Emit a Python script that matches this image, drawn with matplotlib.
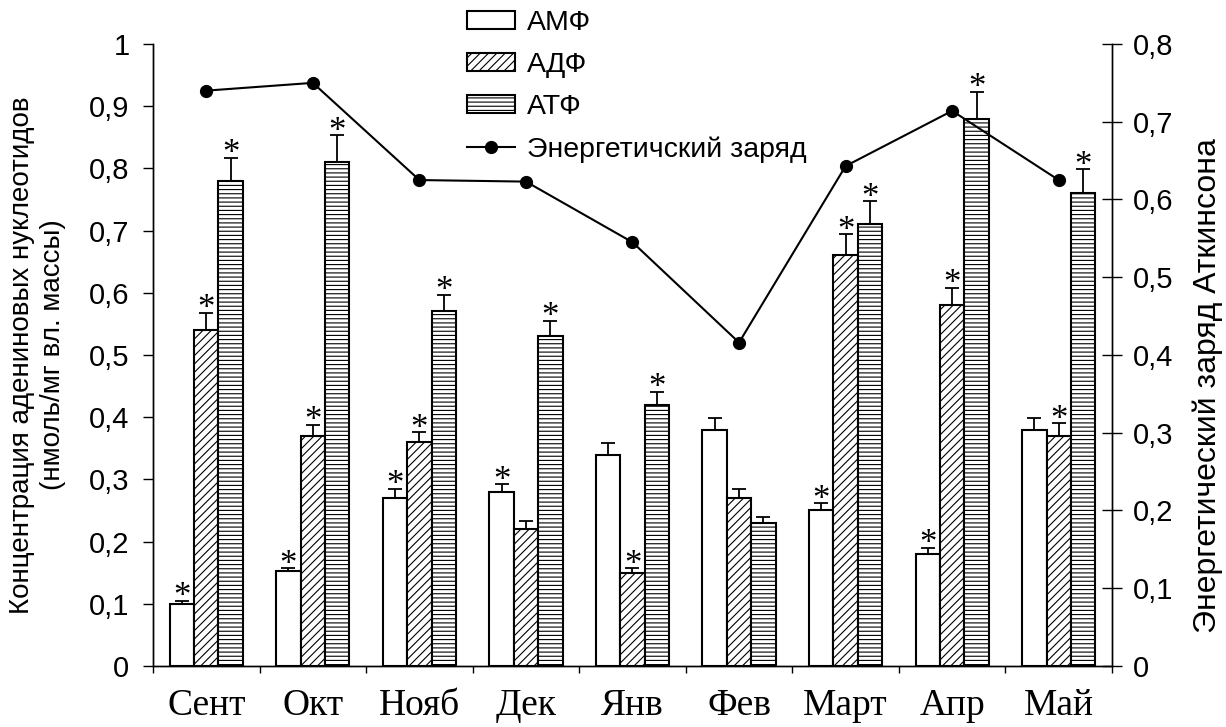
import numpy as np
import matplotlib
matplotlib.use("Agg")
import matplotlib.pyplot as plt
from matplotlib.ticker import FuncFormatter

months = ['Сент', 'Окт', 'Нояб', 'Дек', 'Янв', 'Фев', 'Март', 'Апр', 'Май']

amf = [0.10, 0.152, 0.27, 0.28, 0.34, 0.38, 0.25, 0.18, 0.38]
adf = [0.54, 0.37, 0.36, 0.22, 0.15, 0.27, 0.66, 0.58, 0.37]
atf = [0.78, 0.81, 0.57, 0.53, 0.42, 0.23, 0.71, 0.88, 0.76]

amf_err = [0.005, 0.005, 0.015, 0.012, 0.018, 0.019, 0.012, 0.010, 0.019]
adf_err = [0.028, 0.018, 0.016, 0.013, 0.007, 0.015, 0.034, 0.028, 0.020]
atf_err = [0.037, 0.043, 0.027, 0.025, 0.021, 0.009, 0.037, 0.043, 0.039]

# достоверные отличия (*)
amf_sig = [1, 1, 1, 1, 0, 0, 1, 1, 0]
adf_sig = [1, 1, 1, 0, 1, 0, 1, 1, 1]
atf_sig = [1, 1, 1, 1, 1, 0, 1, 1, 1]

charge = [0.74, 0.75, 0.625, 0.623, 0.545, 0.416, 0.643, 0.714, 0.625]

plt.rcParams['font.family'] = ['Liberation Sans', 'DejaVu Sans']
plt.rcParams['hatch.linewidth'] = 0.8

fig = plt.figure(figsize=(12.26, 7.27), dpi=100)
ax = fig.add_axes([0.1248, 0.0839, 0.907 - 0.1248, 0.9395 - 0.0839])
ax2 = ax.twinx()

x = np.arange(len(months))
w = 0.229

series = [
    (amf, amf_err, amf_sig, '', 'АМФ', -w),
    (adf, adf_err, adf_sig, '////', 'АДФ', 0),
    (atf, atf_err, atf_sig, '----', 'АТФ', w),
]

handles = []
for vals, err, sig, hatch, name, dx in series:
    b = ax.bar(x + dx, vals, w, color='white', edgecolor='black',
               linewidth=1.5, hatch=hatch, label=name)
    handles.append(b)
    ax.errorbar(x + dx, vals, yerr=[np.zeros(len(vals)), err], fmt='none',
                ecolor='black', elinewidth=1.3, capsize=4.7, capthick=1.3)
    for i in range(len(vals)):
        if sig[i]:
            ax.annotate('*', (x[i] + dx, vals[i] + err[i]), xytext=(0, -4),
                        textcoords='offset points', ha='center', va='baseline',
                        fontsize=25, family='Liberation Serif')

line, = ax2.plot(x, charge, '-o', color='black', linewidth=1.5,
                 markersize=8.5, label='Энергетичский заряд')
handles.append(line)

comma = FuncFormatter(lambda v, p: ('%g' % v).replace('.', ','))

ax.set_xlim(-0.5, len(months) - 0.5)
ax.set_ylim(0, 1)
ax.set_yticks(np.arange(0, 1.01, 0.1))
ax.yaxis.set_major_formatter(comma)
ax2.set_ylim(0, 0.8)
ax2.set_yticks(np.arange(0, 0.81, 0.1))
ax2.yaxis.set_major_formatter(comma)

ax.set_xticks(x)
ax.set_xticklabels(months, family='Liberation Serif', fontsize=27)
ax.set_xticks(np.arange(len(months) + 1) - 0.5, minor=True)
ax.tick_params(axis='x', which='major', length=0, pad=16)
ax.tick_params(axis='x', which='minor', length=5, width=1, direction='out')
ax.tick_params(axis='y', length=7, width=1, direction='out', labelsize=21, pad=10)
ax2.tick_params(axis='y', length=14, width=1, direction='inout', labelsize=21, pad=8)

for a in (ax, ax2):
    a.spines['top'].set_visible(False)
    for s in ('left', 'right', 'bottom'):
        a.spines[s].set_linewidth(1)

fig.text(38 / 1226, 0.512, 'Концентрация адениновых нуклеотидов\n(нмоль/мг вл. массы)',
         rotation=90, ha='center', va='center', multialignment='center', fontsize=20,
         linespacing=1.25)
fig.text(1208 / 1226, 0.47, 'Энергетический заряд Аткинсона', rotation=90,
         ha='center', va='center', fontsize=23)

fig.legend(handles, [h.get_label() for h in handles], loc='upper left',
           bbox_to_anchor=(467 / 1226, 0.986), frameon=False, fontsize=20.5,
           borderpad=0, borderaxespad=0, handlelength=1.68, handleheight=0.56,
           handletextpad=0.42, labelspacing=0.56)

fig.savefig('out.png', dpi=100)
